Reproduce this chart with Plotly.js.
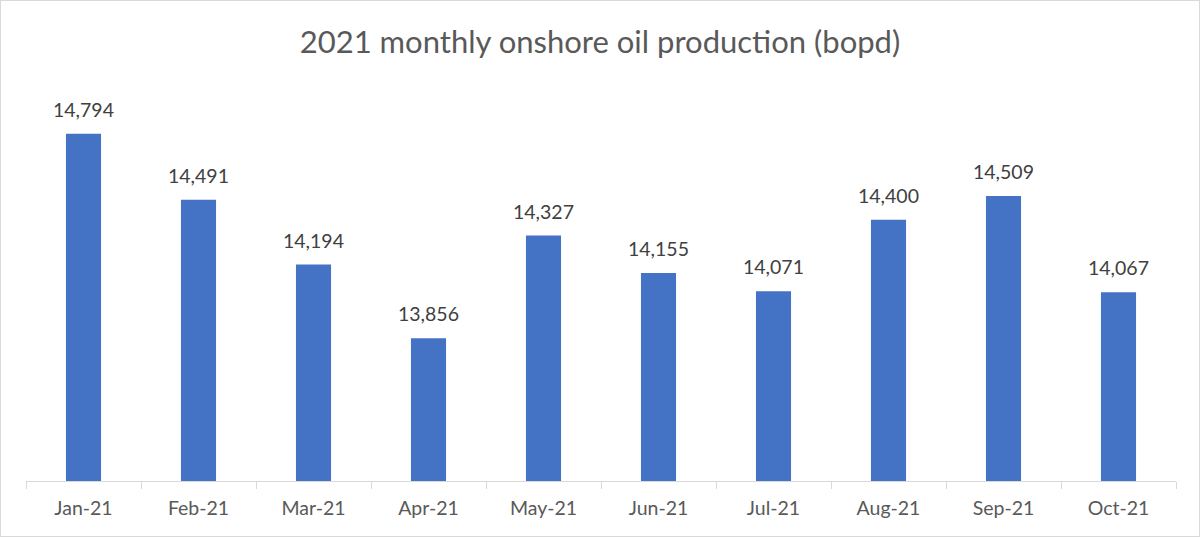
<!DOCTYPE html>
<html>
<head>
<meta charset="utf-8">
<script src="https://cdn.plot.ly/plotly-3.0.1.min.js"></script>
<style>
html,body{margin:0;padding:0;background:#fff;}
#wrap{position:relative;width:1200px;height:537px;}
#chart{width:1200px;height:537px;}
#frame{position:absolute;left:0;top:0;width:1198px;height:535px;border:1px solid #d9d9d9;pointer-events:none;}
</style>
</head>
<body>
<div id="wrap"><div id="chart"></div><div id="frame"></div></div>
<script>
const months = ["Jan-21","Feb-21","Mar-21","Apr-21","May-21","Jun-21","Jul-21","Aug-21","Sep-21","Oct-21"];
const production = [14794,14491,14194,13856,14327,14155,14071,14400,14509,14067];
const chartTitle = "2021 monthly onshore oil production (bopd)";

const font = "Lato, 'Open Sans', sans-serif";

const labels = months.map((m, i) => ({
  x: m, y: production[i], xref: "x", yref: "y",
  text: production[i].toLocaleString("en-US"),
  showarrow: false, yanchor: "bottom", yshift: 11,
  font: {family: font, size: 19.5, color: "#404040"}
}));

Plotly.newPlot("chart", [{
  type: "bar",
  x: months,
  y: production,
  marker: {color: "#4472C4"},
  hoverinfo: "none"
}], {
  width: 1200, height: 537,
  margin: {l: 26, r: 24, t: 89, b: 56},
  paper_bgcolor: "#fff", plot_bgcolor: "#fff",
  bargap: 0.695,
  title: {text: chartTitle, x: 0.5, xanchor: "center", y: 0.922, yanchor: "middle",
          font: {family: font, size: 31, color: "#595959"}},
  xaxis: {
    type: "category",
    showline: true, linecolor: "#d9d9d9", linewidth: 1,
    ticks: "outside", tickson: "boundaries", ticklen: 7, tickcolor: "#d9d9d9",
    ticklabelstandoff: 10,
    tickfont: {family: font, size: 19.5, color: "#595959"},
    showgrid: false, zeroline: false, fixedrange: true
  },
  yaxis: {
    range: [13200, 15000], visible: false, showgrid: false, zeroline: false, fixedrange: true
  },
  annotations: labels,
  showlegend: false
}, {displayModeBar: false, staticPlot: true});
</script>
</body>
</html>
